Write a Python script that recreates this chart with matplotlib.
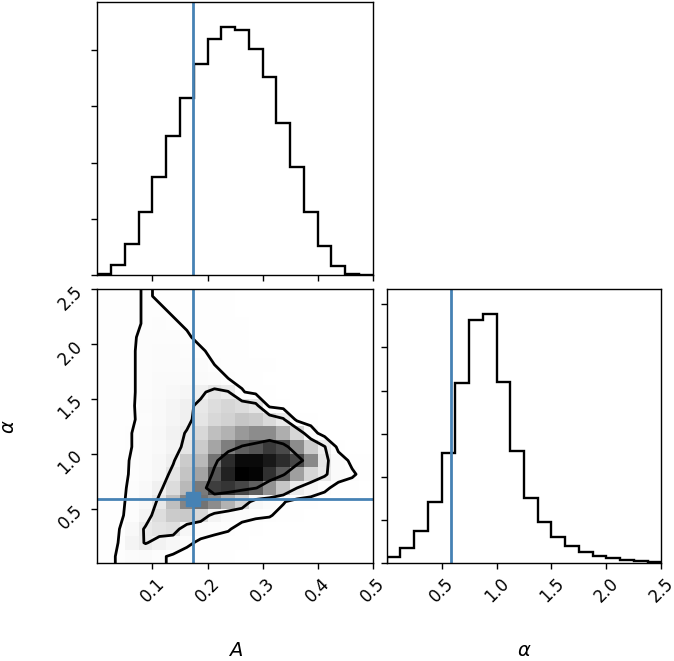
import numpy as np
import matplotlib
matplotlib.use("Agg")
import matplotlib.pyplot as plt
from matplotlib.colors import LinearSegmentedColormap
from matplotlib.ticker import MultipleLocator, FixedLocator

# ---------------- data ----------------
A_edges = np.linspace(0.0, 0.5, 21)
alpha_edges = np.linspace(0.0, 2.5, 21)

A_counts = [24, 177, 560, 1121, 1740, 2466, 3156, 3758, 4206, 4419,
            4366, 4029, 3516, 2714, 1917, 1121, 513, 171, 29, 3]
alpha_counts = [154, 347, 748, 1419, 2552, 4179, 5644, 5767, 4187, 2606,
                1511, 964, 601, 401, 262, 170, 123, 77, 46, 23]

# 2D density (percent of peak), rows = alpha bins (bottom->top), cols = A bins
H_rows = [
    [3, 8, 12, 13, 9, 5, 3, 2, 1, 1, 0, 0, 0, 0, 0, 0, 0, 0, 0, 0],
    [2, 7, 20, 28, 22, 17, 9, 5, 3, 2, 1, 0, 0, 0, 0, 0, 0, 0, 0, 0],
    [2, 6, 16, 29, 33, 35, 17, 12, 10, 8, 3, 1, 0, 0, 0, 0, 0, 0, 0, 0],
    [2, 5, 10, 20, 36, 45, 46, 39, 20, 14, 11, 9, 8, 3, 1, 0, 0, 0, 0, 0],
    [2, 5, 9, 16, 30, 50, 69, 74, 67, 55, 42, 17, 12, 8, 2, 1, 0, 0, 0, 0],
    [2, 4, 9, 15, 24, 37, 52, 72, 87, 89, 85, 79, 65, 47, 27, 18, 10, 2, 1, 0],
    [2, 4, 8, 12, 17, 32, 48, 60, 82, 93, 100, 99, 90, 80, 61, 40, 30, 14, 9, 2],
    [2, 3, 8, 12, 17, 25, 45, 52, 74, 91, 98, 98, 95, 91, 85, 68, 32, 14, 4, 1],
    [2, 3, 7, 11, 15, 20, 32, 45, 59, 71, 79, 82, 88, 84, 67, 45, 28, 3, 0, 0],
    [2, 3, 7, 11, 16, 22, 28, 39, 50, 55, 63, 67, 67, 56, 40, 14, 0, 0, 0, 0],
    [2, 3, 6, 10, 15, 19, 24, 32, 39, 42, 47, 45, 38, 29, 3, 1, 0, 0, 0, 0],
    [2, 3, 6, 11, 15, 19, 24, 30, 36, 40, 37, 32, 4, 1, 0, 0, 0, 0, 0, 0],
    [2, 3, 6, 10, 14, 16, 18, 24, 32, 28, 8, 3, 1, 0, 0, 0, 0, 0, 0, 0],
    [2, 3, 6, 10, 13, 14, 14, 13, 11, 7, 4, 2, 0, 0, 0, 0, 0, 0, 0, 0],
    [2, 3, 6, 10, 12, 12, 12, 11, 7, 5, 3, 2, 1, 0, 0, 0, 0, 0, 0, 0],
    [2, 3, 6, 10, 11, 11, 10, 8, 5, 3, 2, 0, 0, 0, 0, 0, 0, 0, 0, 0],
    [2, 3, 6, 9, 10, 10, 8, 5, 3, 2, 1, 0, 0, 0, 0, 0, 0, 0, 0, 0],
    [2, 3, 5, 8, 9, 8, 6, 4, 3, 2, 1, 0, 0, 0, 0, 0, 0, 0, 0, 0],
    [2, 3, 5, 8, 8, 6, 4, 3, 2, 1, 0, 0, 0, 0, 0, 0, 0, 0, 0, 0],
    [2, 3, 5, 8, 6, 4, 3, 2, 1, 1, 0, 0, 0, 0, 0, 0, 0, 0, 0, 0],
]
contour_levels = [7, 27, 78]

A_true = 0.174
alpha_true = 0.585

A_ticks = [0.1, 0.2, 0.3, 0.4, 0.5]
alpha_ticks = [0.5, 1.0, 1.5, 2.0, 2.5]
A_ticklabels = ["0.1", "0.2", "0.3", "0.4", "0.5"]
alpha_ticklabels = ["0.5", "1.0", "1.5", "2.0", "2.5"]
labels = [r"$A$", r"$\alpha$"]

# ---------------- style ----------------
truth_color = "#4682b4"
W, Hpx = 674, 661
fig = plt.figure(figsize=(W / 100, Hpx / 100), dpi=100)

def box(l, t, r, b):
    return [l / W, 1 - b / Hpx, (r - l) / W, (b - t) / Hpx]

ax00 = fig.add_axes(box(97.4, 1.7, 372.8, 275.3))
ax10 = fig.add_axes(box(97.4, 289.3, 372.8, 563.3))
ax11 = fig.add_axes(box(386.7, 289.3, 661.3, 563.3))

tick_fs = 12
label_fs = 14
for ax in (ax00, ax10, ax11):
    for s in ax.spines.values():
        s.set_linewidth(1.0)
    ax.tick_params(length=4.3, width=1.0, labelsize=tick_fs, pad=4)

hist_lw = 1.7
# top histogram (A)
ax00.hist(A_edges[:-1], bins=A_edges, weights=A_counts, histtype="step",
          color="k", lw=hist_lw)
ax00.set_xlim(0, 0.5)
ax00.set_ylim(0, 1.1 * max(A_counts))
ax00.xaxis.set_major_locator(FixedLocator(A_ticks))
ax00.yaxis.set_major_locator(MultipleLocator(1000))
ax00.set_xticklabels([])
ax00.set_yticklabels([])
ax00.axvline(A_true, color=truth_color, lw=2.0)

# right histogram (alpha)
ax11.hist(alpha_edges[:-1], bins=alpha_edges, weights=alpha_counts,
          histtype="step", color="k", lw=hist_lw)
ax11.set_xlim(0, 2.5)
ax11.set_ylim(0, 1.1 * max(alpha_counts))
ax11.xaxis.set_major_locator(FixedLocator(alpha_ticks))
ax11.set_xticklabels(alpha_ticklabels, rotation=45, fontsize=tick_fs)
ax11.yaxis.set_major_locator(MultipleLocator(1000))
ax11.set_yticklabels([])
ax11.axvline(alpha_true, color=truth_color, lw=2.0)
ax11.set_xlabel(labels[1], fontsize=label_fs)
ax11.xaxis.set_label_coords(0.5, -0.285)

# 2D panel
H = np.array(H_rows, dtype=float)
dens_cmap = LinearSegmentedColormap.from_list("dens", ["k", (1, 1, 1, 0)])
ax10.pcolormesh(A_edges, alpha_edges, H.max() - H, cmap=dens_cmap,
                shading="flat", antialiased=False, linewidth=0)

xc = 0.5 * (A_edges[1:] + A_edges[:-1])
yc = 0.5 * (alpha_edges[1:] + alpha_edges[:-1])
dx = xc[1] - xc[0]
dy = yc[1] - yc[0]
H2 = H.min() + np.zeros((H.shape[0] + 4, H.shape[1] + 4))
H2[2:-2, 2:-2] = H
H2[2:-2, 1] = H[:, 0]
H2[2:-2, -2] = H[:, -1]
H2[1, 2:-2] = H[0]
H2[-2, 2:-2] = H[-1]
H2[1, 1] = H[0, 0]
H2[1, -2] = H[0, -1]
H2[-2, 1] = H[-1, 0]
H2[-2, -2] = H[-1, -1]
X2 = np.concatenate([xc[0] + np.array([-2, -1]) * dx, xc, xc[-1] + np.array([1, 2]) * dx])
Y2 = np.concatenate([yc[0] + np.array([-2, -1]) * dy, yc, yc[-1] + np.array([1, 2]) * dy])
ax10.contour(X2, Y2, H2, levels=contour_levels, colors="k", linewidths=2.0)

ax10.axvline(A_true, color=truth_color, lw=2.0)
ax10.axhline(alpha_true, color=truth_color, lw=2.0)
ax10.plot(A_true, alpha_true, "s", color=truth_color, ms=9.5)
ax10.set_xlim(0, 0.5)
ax10.set_ylim(0, 2.5)
ax10.xaxis.set_major_locator(FixedLocator(A_ticks))
ax10.yaxis.set_major_locator(FixedLocator(alpha_ticks))
ax10.set_xticklabels(A_ticklabels, rotation=45, fontsize=tick_fs)
ax10.set_yticklabels(alpha_ticklabels, rotation=45, fontsize=tick_fs)
ax10.set_xlabel(labels[0], fontsize=label_fs)
ax10.set_ylabel(labels[1], fontsize=label_fs)
ax10.xaxis.set_label_coords(0.5, -0.285)
ax10.yaxis.set_label_coords(-0.29, 0.5)

fig.savefig("out.png", dpi=100)
